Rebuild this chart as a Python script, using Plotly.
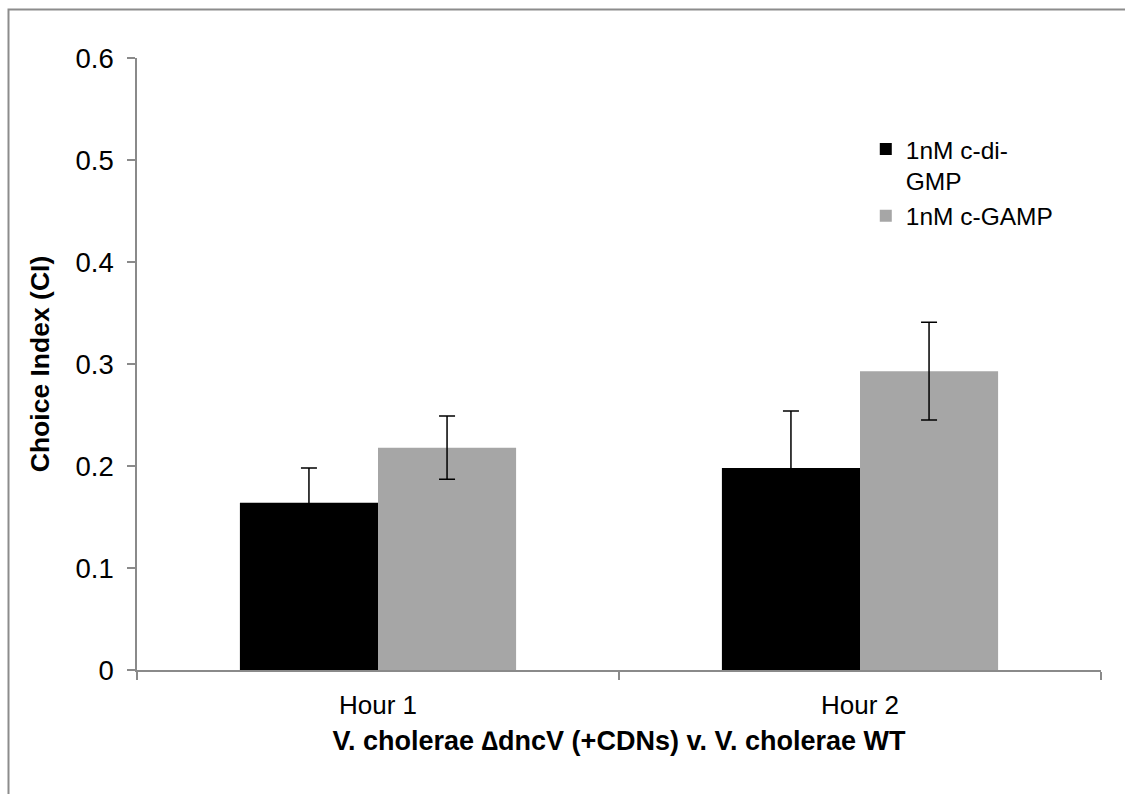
import plotly.graph_objects as go

# Choice index per time point for the two cyclic dinucleotide treatments
hours = ["Hour 1", "Hour 2"]
series_names = ["1nM c-di-<br>GMP", "1nM c-GAMP"]
cdigmp_ci = [0.164, 0.198]
cdigmp_err = [0.034, 0.056]
cgamp_ci = [0.218, 0.293]
cgamp_err = [0.031, 0.048]
y_ticks = [0, 0.1, 0.2, 0.3, 0.4, 0.5, 0.6]

FONT = "Liberation Sans, Arial, sans-serif"
AXIS_GREY = "#8a8a8a"

fig = go.Figure()
fig.add_trace(go.Bar(
    name=series_names[0], x=hours, y=cdigmp_ci,
    marker=dict(color="#000000", line=dict(width=0)),
    error_y=dict(type="data", array=cdigmp_err, visible=True,
                 color="#000000", thickness=1.5, width=8),
))
fig.add_trace(go.Bar(
    name=series_names[1], x=hours, y=cgamp_ci,
    marker=dict(color="#a6a6a6", line=dict(width=0)),
    error_y=dict(type="data", array=cgamp_err, visible=True,
                 color="#000000", thickness=1.5, width=8),
))

fig.update_layout(
    width=1125, height=794,
    margin=dict(l=137, r=24, t=58, b=124),
    paper_bgcolor="white", plot_bgcolor="white",
    barmode="group", bargap=0.427, bargroupgap=0,
    font=dict(family=FONT, color="#000000"),
    legend=dict(
        x=0.756, y=0.888, xanchor="left", yanchor="top",
        valign="top", font=dict(size=24.5, family=FONT),
        bgcolor="rgba(0,0,0,0)", tracegroupgap=0,
    ),
    xaxis=dict(
        showline=True, linecolor=AXIS_GREY, linewidth=1.5,
        ticks="outside", ticklen=8, tickcolor=AXIS_GREY, tickwidth=1.5,
        tickson="boundaries", showgrid=False,
        tickfont=dict(size=26, family=FONT),
        ticklabelstandoff=11,
        title=dict(text="<b>V. cholerae ∆dncV (+CDNs) v. V. cholerae WT</b>",
                   font=dict(size=27, family=FONT), standoff=12),
    ),
    yaxis=dict(
        range=[0, 0.6], tickvals=y_ticks,
        showline=True, linecolor=AXIS_GREY, linewidth=1.5,
        ticks="outside", ticklen=8, tickcolor=AXIS_GREY, tickwidth=1.5,
        showgrid=False, zeroline=False,
        tickfont=dict(size=27.5, family=FONT),
        ticklabelstandoff=8,
        title=dict(text="<b>Choice Index (CI)</b>",
                   font=dict(size=26.5, family=FONT), standoff=18),
    ),
    shapes=[dict(
        type="rect", xref="paper", yref="paper",
        x0=-0.1333, x1=1.05, y0=-0.25, y1=1.0793,
        line=dict(color="#8c8c8c", width=2), fillcolor="rgba(0,0,0,0)",
        layer="below",
    )],
)

fig.write_html("out.html")
